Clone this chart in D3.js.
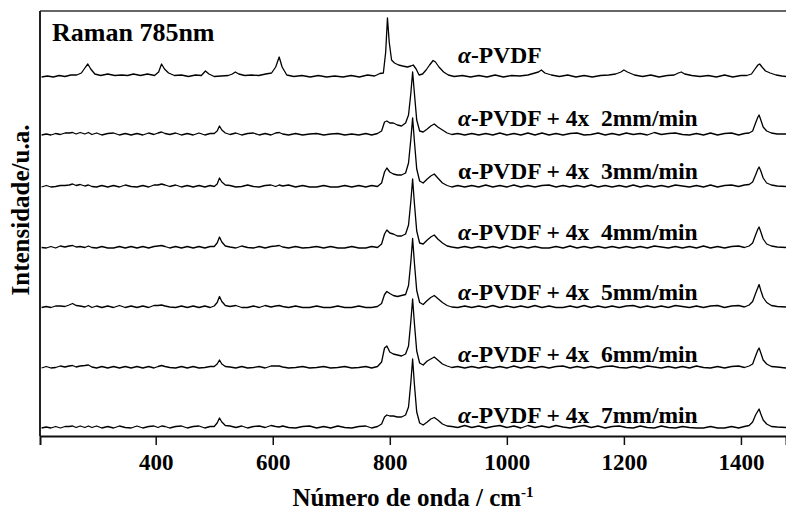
<!DOCTYPE html>
<html>
<head>
<meta charset="utf-8">
<script src="https://cdn.jsdelivr.net/npm/d3@7"></script>
<style>
  html, body { margin: 0; padding: 0; background: #fff; }
  svg { display: block; }
  text { font-family: "Liberation Serif", "Times New Roman", serif; font-weight: bold; fill: #000; }
</style>
</head>
<body>
<svg id="chart" width="786" height="516"></svg>
<script>
// Raman spectra (785 nm excitation) of alpha-PVDF and stretched films (4x, various rates)

// Wavenumber grid (cm-1) for the stretched samples
const wavenumbers = [
  205, 213, 221, 229, 237, 245, 252, 258, 264, 271,
  279, 285, 291, 299, 308, 318, 328, 338, 348, 358,
  368, 378, 388, 397, 404, 410, 416, 424, 434, 444,
  454, 464, 474, 484, 493, 500, 505, 509, 513, 519,
  527, 537, 547, 557, 567, 577, 587, 597, 605, 611,
  617, 627, 639, 651, 663, 675, 687, 699, 711, 723,
  735, 747, 759, 769, 779, 786, 791, 795, 800, 806,
  813, 820, 827, 832, 836, 839, 842, 846, 851, 857,
  864, 870, 876, 882, 890, 898, 906, 916, 928, 940,
  952, 964, 976, 988, 1000, 1012, 1024, 1036, 1048, 1060,
  1072, 1084, 1096, 1108, 1120, 1132, 1144, 1156, 1168, 1180,
  1192, 1204, 1216, 1228, 1240, 1252, 1264, 1276, 1288, 1300,
  1312, 1324, 1336, 1348, 1360, 1372, 1384, 1396, 1406, 1414,
  1420, 1425, 1429, 1431, 1434, 1438, 1444, 1452, 1462, 1477
];

// Intensities (a.u., above each trace's own baseline)
const rate2 = [
  0, 1, 0, 1.5, 0.5, 2, 2, 2.5, 1, 2.5,
  1, 2.5, 0.5, 2, 0, 1.5, 2, 0, 1.5, 0,
  1.5, 0, 2, 0.5, 2, 3, 1.5, 0.5, 2, 0,
  1.5, 0, 2, 0, 1.5, 1.5, 4, 9, 5, 2,
  0.5, 2, 0, 1.5, 2, 0, 1.5, 0, 2, 2.5,
  1, 0, 1.5, 0, 1, 1.5, 0, 1, 1.5, 0,
  1, 0, 1.5, 0, 1.5, 4, 13, 14, 12, 12,
  10, 9, 12, 20, 42, 63, 42, 15, 4, 3,
  6, 9, 11, 8, 5, 2, 0.5, 1.5, 0, 1.5,
  0, 1.5, 0, 2, 0, 1.5, 0, 2, 0, 2,
  0, 1.5, 0, 1.5, 2, 0, 0.5, 2, 0, 1.5,
  0, 2, 0.5, 1.5, 0, 2.5, 0.5, 1.5, 2, 0.5,
  0, 1.5, 0, 2, 0, 1.5, 2, 0, 1.5, 2,
  4, 12, 18, 20, 15, 8, 4, 2, 1, 1
];
const rate3 = [
  0, 1.5, 0, 0.5, 1.5, 1.5, 2, 3, 1.5, 2.5,
  1, 2, 0.5, 0, 1.5, 0, 1.5, 0, 2, 0.5,
  0, 1.5, 0, 2, 2, 3, 2, 0.5, 2, 0,
  1.5, 0, 1.5, 0, 1.5, 0.5, 3, 9, 5, 2,
  1.5, 0, 0.5, 2, 0.5, 0, 1.5, 2, 0.5, 2,
  1, 2, 0, 1.5, 0, 0, 1.5, 0, 0, 1.5,
  0, 1.5, 0, 1.5, 0.5, 4, 15, 19, 15, 13,
  12, 12, 14, 24, 48, 69, 46, 18, 6, 4,
  8, 11, 13, 9, 4, 1.5, 0, 1.5, 0, 1.5,
  0, 2, 0, 1.5, 0, 2, 0, 1.5, 0, 1.5,
  2, 0, 1.5, 0, 1.5, 0, 2, 0, 1.5, 0,
  1.5, 0, 2, 0, 1.5, 0, 1.5, 0, 2, 1,
  0, 1.5, 0, 2, 0, 1.5, 2, 0.5, 2, 2.5,
  5, 12, 18, 20, 16, 9, 4, 2, 1, 0.5
];
const rate4 = [
  0.5, 0, 1.5, 0, 2, 1, 2, 2.5, 1, 1.5,
  0.5, 2, 0.5, 0, 1.5, 0, 0, 1.5, 0, 1.5,
  0, 1.5, 0, 1.5, 2, 2.5, 1.5, 0, 1.5, 0,
  1.5, 0, 1.5, 0, 1.5, 1.5, 5, 11, 6, 2,
  1, 0, 2, 0.5, 0, 1.5, 0, 1.5, 2, 2.5,
  1, 0, 1.5, 0, 0.5, 1.5, 0, 1.5, 0, 0,
  1.5, 0, 0, 1.5, 0.5, 4, 14, 18, 15, 14,
  12, 12, 14, 23, 47, 69, 45, 17, 5, 4,
  8, 11, 13, 9, 5, 2, 1, 0, 1.5, 0,
  1.5, 0, 1.5, 0, 2, 0, 1.5, 0, 1.5, 0,
  0, 1.5, 0, 2, 0, 1.5, 0, 1.5, 0, 1.5,
  0, 1.5, 0, 1.5, 0, 2, 1, 0, 1.5, 0,
  1.5, 0, 2, 0, 1.5, 0, 1.5, 2, 0.5, 2,
  5, 13, 19, 21, 16, 9, 4, 2, 1, 0.5
];
const rate5 = [
  0, 1, 0, 1.5, 1.5, 1, 2.5, 4, 2, 1.5,
  0.5, 2, 0, 1.5, 0, 1.5, 0, 2, 0, 1.5,
  0, 1.5, 0, 2, 2, 2.5, 1.5, 0.5, 0, 1.5,
  0, 1.5, 0, 1.5, 0, 1.5, 5, 11, 6, 2,
  1, 2, 0, 0, 1.5, 0, 2, 0.5, 1.5, 2,
  1, 0, 1.5, 0, 0, 1.5, 0, 0, 1.5, 0,
  0, 1.5, 0, 0, 1, 4, 13, 16, 14, 12,
  11, 12, 13, 22, 46, 69, 45, 17, 5, 3,
  7, 10, 12, 9, 5, 2, 0.5, 0, 1.5, 0,
  1.5, 0, 2, 0, 1.5, 0, 1.5, 0, 2, 0,
  1.5, 0, 0, 1.5, 0, 2, 0, 1.5, 0, 1.5,
  0, 1.5, 2, 0, 1.5, 0, 1.5, 0, 2, 1,
  0, 1.5, 0, 1.5, 2, 0, 1.5, 2, 0.5, 2.5,
  6, 14, 20, 23, 17, 10, 5, 2, 1, 0.5
];
const rate6 = [
  0, 1.5, 0, 0.5, 2, 1, 2, 2.5, 1, 2,
  2.5, 3, 1, 0, 1.5, 0, 1.5, 0, 1.5, 0,
  1.5, 0, 1.5, 0, 1.5, 2.5, 1.5, 0.5, 0, 1.5,
  0, 1.5, 0, 0.5, 1.5, 1.5, 4, 8, 4, 1.5,
  1, 0, 1.5, 0, 0.5, 1.5, 0, 2, 2, 2,
  1, 0, 0.5, 1.5, 0, 0.5, 1.5, 0, 0.5, 1.5,
  0, 0.5, 1.5, 0, 1.5, 6, 20, 22, 16, 14,
  13, 12, 14, 22, 47, 69, 45, 17, 5, 3,
  7, 9, 11, 8, 4, 2, 0.5, 1.5, 0, 1.5,
  0, 1.5, 0, 1.5, 0, 2, 0, 1.5, 0, 1.5,
  0, 1.5, 2, 0, 1.5, 0, 1.5, 0, 1.5, 2,
  0.5, 0, 1.5, 0, 2, 1, 0, 1.5, 0, 1.5,
  0, 2, 0.5, 0, 1.5, 0, 1.5, 2, 0.5, 2,
  4, 12, 18, 20, 15, 8, 4, 1.5, 1, 0
];
const rate7 = [
  0, 1, 0, 1.5, 0, 1.5, 1.5, 2, 0.5, 2,
  0.5, 2, 0.5, 2, 0, 1.5, 0, 2, 0.5, 0,
  2, 0, 1.5, 2, 0.5, 2, 1.5, 0, 1.5, 2,
  0, 1.5, 2, 0, 1.5, 1.5, 5, 10, 6, 2.5,
  2, 0.5, 2, 0, 1.5, 2, 0.5, 2.5, 1.5, 1,
  2, 0.5, 0, 1.5, 2, 0, 1.5, 0, 2, 0.5,
  0, 1.5, 2, 0, 1.5, 4, 11, 13, 12, 12,
  11, 11, 13, 21, 46, 69, 44, 16, 5, 3,
  6, 9, 10.5, 8, 4, 2, 1.5, 0.5, 2.5, 0.5,
  2, 0, 1.5, 2.5, 0.5, 2, 0, 2.5, 0.5, 2,
  0.5, 2.5, 1, 0, 1.5, 2.5, 0.5, 2, 0, 1.5,
  2, 0.5, 0, 2, 0.5, 0, 2, 0.5, 0, 1.5,
  0.5, 0, 0, 1.5, 0, 0, 1.5, 0, 1.5, 2.5,
  6, 13, 17, 19, 14, 8, 4, 1.5, 1, 0.5
];

// Unstretched alpha-PVDF, on its own wavenumber grid
const alphaWavenumbers = [
  205, 215, 225, 235, 245, 255, 265, 273, 279, 284,
  289, 296, 306, 318, 330, 342, 352, 362, 374, 386,
  398, 405, 410, 415, 422, 432, 444, 456, 468, 478,
  485, 491, 500, 512, 524, 531, 536, 542, 552, 564,
  576, 588, 598, 605, 611, 616, 624, 636, 650, 664,
  678, 692, 706, 720, 734, 748, 762, 774, 783, 789,
  793, 796, 799, 803, 808, 815, 822, 830, 836, 840,
  845, 850, 856, 862, 868, 874, 878, 884, 892, 900,
  910, 924, 938, 952, 966, 980, 994, 1008, 1022, 1036,
  1048, 1054, 1059, 1065, 1076, 1090, 1104, 1118, 1132, 1146,
  1160, 1174, 1186, 1195, 1200, 1206, 1218, 1232, 1246, 1260,
  1274, 1286, 1293, 1298, 1304, 1316, 1330, 1344, 1358, 1372,
  1386, 1400, 1410, 1418, 1424, 1429, 1432, 1436, 1442, 1450,
  1460, 1470, 1477
];
const alphaPVDF = [
  0, 1, 0, 1.5, 0.5, 2, 2, 4, 9, 13,
  8, 3, 1.5, 3, 1.5, 2, 1.5, 3, 1.5, 3,
  1.5, 5, 13, 8, 4, 1.5, 2, 0.5, 2, 1.5,
  6, 3, 0.5, 1, 1.5, 3, 5, 3, 1.5, 2,
  1.5, 3, 4, 10, 20, 10, 2, 0.5, 1.5, 0,
  1.5, 0, 1, 0, 1.5, 0, 2, 1, 3.5, 4,
  25, 59, 35, 17, 14, 12, 11, 10, 11, 12,
  8, 2, 3, 7, 12, 16.5, 15, 10, 5, 2,
  0.5, 1.5, 0, 1.5, 0, 2, 0, 1.5, 1, 2,
  4, 5, 7, 4, 2, 0.5, 2, 0, 1.5, 0,
  1.5, 2, 3, 5, 7, 5, 2, 0.5, 2, 0,
  1.5, 2, 4, 5, 3, 1.5, 0.5, 1.5, 0, 2,
  0, 1.5, 1.5, 3, 8, 12, 13, 10, 6, 4,
  2, 1, 0.5
];

// Vertical offset (a.u.) of each trace, top to bottom
const seriesOffsets = [359, 301, 249, 188, 128.5, 68, 8];
const seriesLabels = [
  ["α", "-PVDF"],
  ["α", "-PVDF + 4x  2mm/min"],
  ["α", "-PVDF + 4x  3mm/min"],
  ["α", "-PVDF + 4x  4mm/min"],
  ["α", "-PVDF + 4x  5mm/min"],
  ["α", "-PVDF + 4x  6mm/min"],
  ["α", "-PVDF + 4x  7mm/min"]
];
const xTicks = [400, 600, 800, 1000, 1200, 1400];

const svg = d3.select("#chart");
const margin = { left: 40, right: 0, top: 11, bottom: 80 };
const W = 786, H = 516;

const x = d3.scaleLinear().domain([202.3, 1477]).range([margin.left, W - margin.right]);
const y = d3.scaleLinear().domain([0, 425]).range([H - margin.bottom, margin.top]);

const traces = [
  { xs: alphaWavenumbers, ys: alphaPVDF },
  { xs: wavenumbers, ys: rate2 },
  { xs: wavenumbers, ys: rate3 },
  { xs: wavenumbers, ys: rate4 },
  { xs: wavenumbers, ys: rate5 },
  { xs: wavenumbers, ys: rate6 },
  { xs: wavenumbers, ys: rate7 }
];

const line = d3.line().x(d => x(d[0])).y(d => y(d[1]));

svg.append("g").selectAll("path")
  .data(traces)
  .join("path")
  .attr("fill", "none")
  .attr("stroke", "#000")
  .attr("stroke-width", 1.3)
  .attr("stroke-linejoin", "round")
  .attr("d", (t, i) => line(t.xs.map((w, k) => [w, t.ys[k] + seriesOffsets[i]])));

// Frame: top and left borders, bottom axis
svg.append("line")
  .attr("x1", margin.left).attr("x2", W)
  .attr("y1", margin.top).attr("y2", margin.top)
  .attr("stroke", "#333").attr("stroke-width", 1.5);
svg.append("line")
  .attr("x1", margin.left).attr("x2", margin.left)
  .attr("y1", margin.top).attr("y2", H - margin.bottom)
  .attr("stroke", "#222").attr("stroke-width", 2);

const xAxis = svg.append("g")
  .attr("transform", `translate(0,${H - margin.bottom})`)
  .call(d3.axisBottom(x).tickValues(xTicks).tickSize(9).tickPadding(9).tickFormat(d3.format("d")));
xAxis.select(".domain").attr("stroke", "#111").attr("stroke-width", 2);
xAxis.selectAll(".tick line").attr("stroke", "#111").attr("stroke-width", 1.5);
xAxis.selectAll(".tick text")
  .attr("font-size", 23)
  .style("font-family", '"Liberation Serif", serif')
  .style("font-weight", "bold");

// Trace labels
const labelGap = [14, 9.5, 8.5, 8, 7.5, 6.5, 5.5];
const labels = svg.append("g");
seriesLabels.forEach((parts, i) => {
  const t = labels.append("text")
    .attr("x", 458)
    .attr("y", y(seriesOffsets[i]) - labelGap[i])
    .attr("font-size", 23.5)
    .attr("xml:space", "preserve")
    .style("white-space", "pre");
  t.append("tspan")
    .attr("font-style", i === 2 ? "normal" : "italic")
    .text(parts[0]);
  t.append("tspan").text(parts[1]);
});

// Title
svg.append("text")
  .attr("x", 52).attr("y", 41)
  .attr("font-size", 26)
  .text("Raman 785nm");

// Axis titles
const xTitle = svg.append("text")
  .attr("x", (margin.left + W) / 2).attr("y", 506)
  .attr("text-anchor", "middle")
  .attr("font-size", 25);
xTitle.append("tspan").text("Número de onda / cm");
xTitle.append("tspan").attr("font-size", 15).attr("dy", -9).text("-1");

svg.append("text")
  .attr("transform", "translate(29,210) rotate(-90)")
  .attr("text-anchor", "middle")
  .attr("font-size", 25)
  .text("Intensidade/u.a.");
</script>
</body>
</html>
